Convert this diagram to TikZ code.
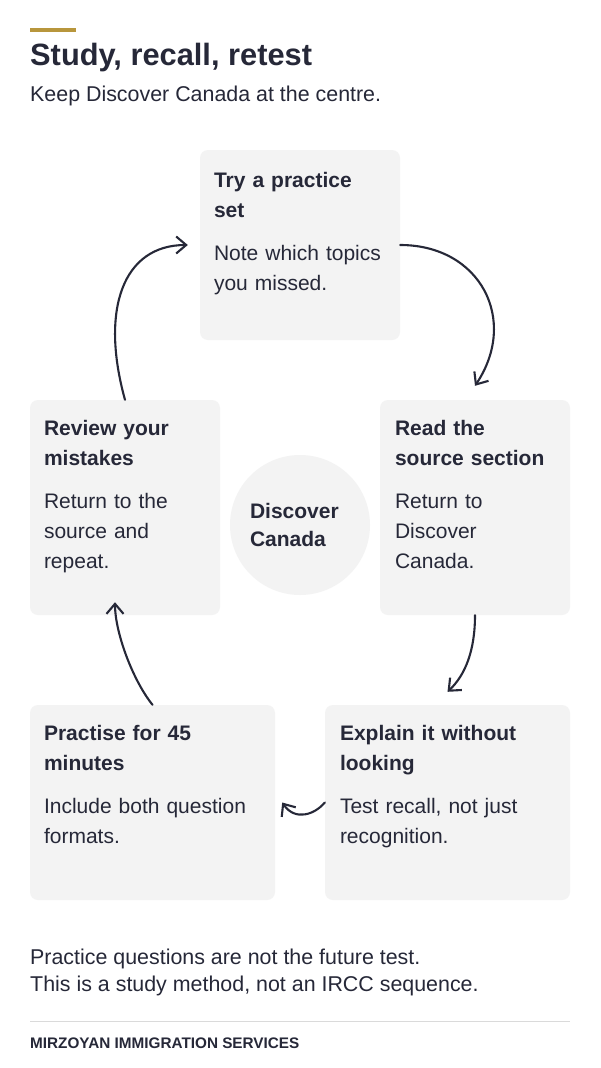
\documentclass[tikz,border=0pt]{standalone}
\usepackage{fontspec}
\setmainfont{Liberation Sans}
\usepackage{tikz}
\usetikzlibrary{arrows.meta, positioning, calc}
\definecolor{ink}{HTML}{262838}
\definecolor{cardgray}{HTML}{F3F3F3}
\definecolor{gold}{HTML}{B8963C}
\definecolor{rulegray}{HTML}{DADADA}

\begin{document}
\begin{tikzpicture}[x=1pt, y=1pt, >={Straight Barb[length=10pt,width=17pt]},
	card/.style={fill=cardgray, rounded corners=8pt, inner sep=0pt},
	txt/.style={anchor=north west, inner sep=0pt, text width=230pt, align=left, text=ink, font=\fontsize{21}{30}\selectfont},
	link/.style={->, draw=ink, line width=2.1pt, line cap=round}]
	\useasboundingbox[fill=white] (0,0) rectangle (600,-1068);
	% header
	\fill[gold] (30,-28) rectangle (76,-32);
	\node (title) at (30,-65)[anchor=base west, inner sep=0pt, text=ink, font=\fontsize{30.8}{36}\selectfont\bfseries] {Study, recall, retest};
	\node (sub) at (30,-101)[anchor=base west, inner sep=0pt, text=ink, font=\fontsize{21.4}{26}\selectfont] {Keep Discover Canada at the centre.};
	% cards
	\node (C1) at (300,-245)[card, minimum width=200pt, minimum height=190pt] {};
	\node (C2) at (475,-507.5)[card, minimum width=190pt, minimum height=215pt] {};
	\node (C3) at (125,-507.5)[card, minimum width=190pt, minimum height=215pt] {};
	\node (C4) at (152.5,-802.5)[card, minimum width=245pt, minimum height=195pt] {};
	\node (C5) at (447.5,-802.5)[card, minimum width=245pt, minimum height=195pt] {};
	\node (hub) at (300,-525)[circle, fill=cardgray, minimum size=140pt, inner sep=0pt, text width=100pt, align=left, text=ink, font=\fontsize{21}{28}\selectfont\bfseries] {Discover\\Canada};
	% card texts
	\node (T1) at ([shift={(14pt,-22pt)}]C1.north west)[txt] {\textbf{Try a practice}\\\textbf{set}\par\vspace{13pt}Note which topics\\you missed.};
	\node (T2) at ([shift={(15pt,-20pt)}]C2.north west)[txt] {\textbf{Read the}\\\textbf{source section}\par\vspace{13pt}Return to\\Discover\\Canada.};
	\node (T3) at ([shift={(14pt,-20pt)}]C3.north west)[txt] {\textbf{Review your}\\\textbf{mistakes}\par\vspace{13pt}Return to the\\source and\\repeat.};
	\node (T4) at ([shift={(14pt,-20pt)}]C4.north west)[txt] {\textbf{Practise for 45}\\\textbf{minutes}\par\vspace{13pt}Include both question\\formats.};
	\node (T5) at ([shift={(15pt,-20pt)}]C5.north west)[txt] {\textbf{Explain it without}\\\textbf{looking}\par\vspace{13pt}Test recall, not just\\recognition.};
	% cycle
	\draw [link](C1.east) .. controls +(80,0) and +(44,66) .. ([yshift=14pt]C2.north);
	\draw [link](C2.south) .. controls +(0,-35) and +(18,17) .. ([yshift=13pt]C5.north);
	\draw [link](C5.west) .. controls +(-10,-12) and +(13,-19) .. ([xshift=7pt]C4.east);
	\draw [link](C4.north) .. controls +(-20,25) and +(0,-30) .. ([shift={(-10pt,13pt)}]C3.south);
	\draw [link](C3.north) .. controls +(-25,90) and +(-65,0) .. ([xshift=-12pt]C1.west);
	% footer
	\node (note1) at (30,-964)[anchor=base west, inner sep=0pt, text=ink, font=\fontsize{21.4}{26}\selectfont] {Practice questions are not the future test.};
	\node (note2) at (30,-991)[anchor=base west, inner sep=0pt, text=ink, font=\fontsize{21.4}{26}\selectfont] {This is a study method, not an IRCC sequence.};
	\draw[rulegray, line width=1pt] (30,-1021) -- (570,-1021);
	\node (brand) at (30,-1048)[anchor=base west, inner sep=0pt, text=ink, font=\fontsize{15.3}{18}\selectfont\bfseries] {MIRZOYAN IMMIGRATION SERVICES};
\end{tikzpicture}
\end{document}
